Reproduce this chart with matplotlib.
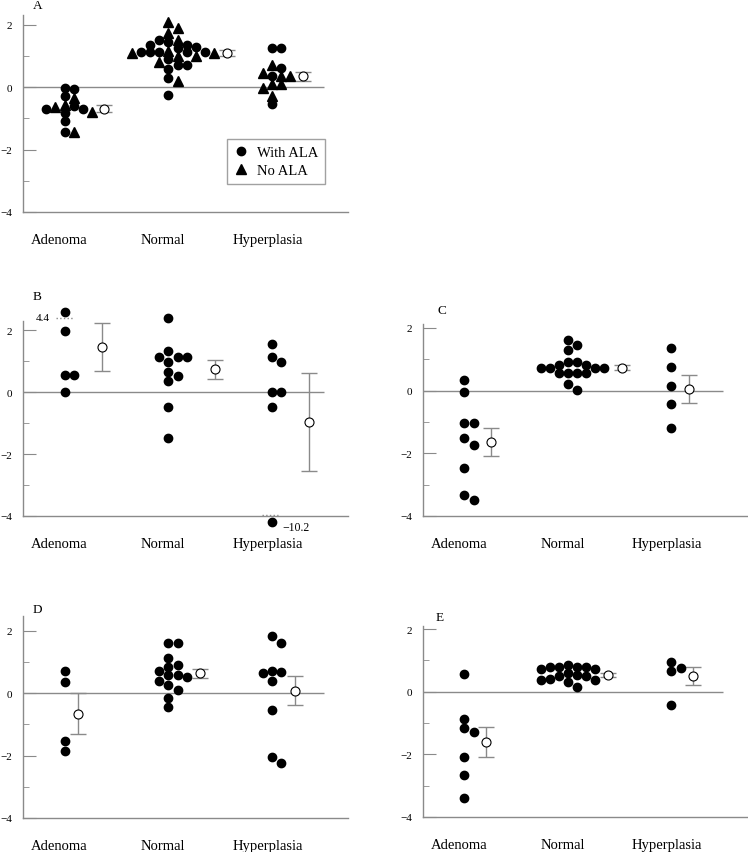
import numpy as np
import matplotlib
matplotlib.use("Agg")
import matplotlib.pyplot as plt

plt.rcParams['font.family'] = ['Liberation Serif', 'DejaVu Serif']

categories = ['Adenoma', 'Normal', 'Hyperplasia']

# Panel A: split by marker (circle = with ALA, triangle = no ALA)
a_ala = [
    [-0.03, -0.07, -0.27, -0.59, -0.70, -0.70, -0.82, -1.07, -1.42],
    [1.52, 1.46, 1.37, 1.37, 1.30, 1.27, 1.12, 1.12, 1.12, 1.12, 1.12,
     0.91, 0.70, 0.70, 0.59, 0.29, -0.24],
    [1.27, 1.27, 0.62, 0.37, -0.55],
]
a_noala = [
    [-0.35, -0.57, -0.62, -0.80, -1.42],
    [2.09, 1.89, 1.74, 1.53, 1.18, 1.10, 1.10, 1.02, 1.02, 0.80, 0.20],
    [0.70, 0.46, 0.37, 0.35, 0.11, 0.11, -0.03, -0.27],
]
a_mean = [-0.69, 1.09, 0.35]
a_err = [0.11, 0.10, 0.15]

b_vals = [
    [4.4, 1.98, 0.54, 0.54, 0.0],
    [2.41, 1.34, 1.13, 1.13, 1.13, 0.98, 0.65, 0.52, 0.35, -0.49, -1.49],
    [1.57, 1.15, 0.99, 0.0, 0.0, -0.49, -10.2],
]
b_mean = [1.47, 0.74, -0.95]
b_err = [0.77, 0.31, 1.58]

c_vals = [
    [0.35, -0.04, -1.05, -1.05, -1.52, -1.74, -2.47, -3.33, -3.50],
    [1.60, 1.44, 1.28, 0.90, 0.90, 0.82, 0.82, 0.73, 0.73, 0.73, 0.73,
     0.55, 0.55, 0.55, 0.55, 0.21, 0.02],
    [1.35, 0.75, 0.14, -0.42, -1.20],
]
c_mean = [-1.65, 0.72, 0.05]
c_err = [0.45, 0.08, 0.44]

d_vals = [
    [0.70, 0.37, -1.54, -1.86],
    [1.60, 1.60, 1.13, 0.91, 0.84, 0.71, 0.60, 0.60, 0.52, 0.41, 0.26,
     0.12, -0.15, -0.44],
    [1.84, 1.61, 0.71, 0.68, 0.66, 0.40, -0.52, -2.03, -2.24],
]
d_mean = [-0.65, 0.64, 0.09]
d_err = [0.65, 0.15, 0.48]

e_vals = [
    [0.57, -0.87, -1.17, -1.27, -2.09, -2.67, -3.38],
    [0.85, 0.80, 0.80, 0.80, 0.80, 0.72, 0.72, 0.60, 0.55, 0.49, 0.49,
     0.41, 0.37, 0.37, 0.32, 0.15],
    [0.94, 0.75, 0.67, -0.41],
]
e_mean = [-1.60, 0.53, 0.50]
e_err = [0.48, 0.07, 0.30]

GRAY = '#8a8a8a'
STEP = 0.088      # horizontal slot width (data units)
MINGAP = 0.24     # min vertical distance within a slot
BREAK_HI, BREAK_LO = 3.0, -4.0   # values past these are drawn on an axis break


def swarm(values):
    # simple grid beeswarm: highest value first, nearest free slot
    values = np.asarray(values, float)
    slots = np.zeros(len(values))
    placed = []
    for i in np.argsort(-values, kind='stable'):
        for k in [0, 1, -1, 2, -2, 3, -3, 4, -4, 5, -5]:
            if all(not (s == k and abs(v - values[i]) < MINGAP) for s, v in placed):
                break
        slots[i] = k
        placed.append((k, values[i]))
    return slots * STEP


def setup_axes(ax, ytop):
    ax.set_xlim(0.6, 3.73)
    ax.set_ylim(-4, ytop)
    for s in ['top', 'right']:
        ax.spines[s].set_visible(False)
    for s in ['left', 'bottom']:
        ax.spines[s].set_color(GRAY)
        ax.spines[s].set_linewidth(1)
    ax.hlines(0, 0.6, 3.5, color=GRAY, lw=1, zorder=1)
    ax.set_yticks([-4, -2, 0, 2])
    ax.set_yticklabels(['\u22124', '\u22122', '0', '2'])
    ax.set_yticks([-3, -1, 1], minor=True)
    ax.tick_params(axis='y', which='major', direction='in', length=9.5,
                   color=GRAY, labelsize=8, pad=8)
    ax.tick_params(axis='y', which='minor', direction='in', length=4,
                   color=GRAY)
    ax.set_xticks([0.95, 1.95, 2.96])
    ax.set_xticklabels(categories)
    ax.tick_params(axis='x', length=0, labelsize=10.5, pad=15)


def draw_mean(ax, x, m, e):
    ax.errorbar(x, m, yerr=e, fmt='none', ecolor=GRAY, elinewidth=1,
                capsize=5.5, capthick=1, zorder=2)
    ax.plot(x, m, 'o', ms=6.5, mfc='white', mec='black', mew=0.8, zorder=3)


W, H = 748, 853
fig = plt.figure(figsize=(W / 100, H / 100), dpi=100)


def make_ax(left, top, right, bottom):
    return fig.add_axes([left / W, 1 - bottom / H, (right - left) / W,
                         (bottom - top) / H])


def letter(px, py, s):
    fig.text(px / W, 1 - py / H, s, fontsize=9.5, ha='left', va='center')


# ---- panel A ----
ax = make_ax(23, 16, 348, 213)
setup_axes(ax, 2.32)
letter(33, 6, 'A')
for i in range(3):
    vals = np.array(a_ala[i] + a_noala[i])
    off = swarm(vals)
    n = len(a_ala[i])
    x = i + 1 + off
    ax.plot(x[:n], vals[:n], 'o', color='black', ms=6,
            label='With ALA' if i == 0 else None, zorder=3)
    ax.plot(x[n:], vals[n:], '^', color='black', ms=7,
            label='No ALA' if i == 0 else None, zorder=3)
    draw_mean(ax, x.max() + 0.12, a_mean[i], a_err[i])
leg = ax.legend(loc='lower left', bbox_to_anchor=(0.606, 0.107),
                fancybox=False, edgecolor=GRAY, fontsize=10.5,
                handletextpad=0.6, borderpad=0.45, labelspacing=0.35,
                handlelength=1.0)
leg.get_frame().set_linewidth(1)


def simple_panel(box, ytop, name, lpos, vals_list, means, errs, gap):
    ax = make_ax(*box)
    setup_axes(ax, ytop)
    letter(lpos[0], lpos[1], name)
    for i in range(3):
        vals = np.array(vals_list[i], float)
        shown = vals.copy()
        shown[vals > BREAK_HI] = ytop + 0.3
        shown[vals < BREAK_LO] = -4.2
        off = swarm(shown)
        x = i + 1 + off
        ax.plot(x, shown, 'o', color='black', ms=6, zorder=3, clip_on=False)
        draw_mean(ax, x.max() + gap, means[i], errs[i])
        for xv, v, sv in zip(x, vals, shown):
            if v > BREAK_HI:
                ax.plot([xv - 0.08, xv + 0.08], [sv - 0.2, sv - 0.2], ':',
                        color=GRAY, lw=1, clip_on=False)
                ax.text(xv - 0.14, sv - 0.2, f'{v:g}', ha='right',
                        va='center', fontsize=8)
            elif v < BREAK_LO:
                ax.plot([xv - 0.1, xv + 0.06], [-3.96, -3.96], ':',
                        color=GRAY, lw=1, clip_on=False)
                ax.text(xv + 0.1, sv - 0.15, f'{v:g}'.replace('-', '\u2212'),
                        ha='left', va='center', fontsize=8.5)
    return ax


simple_panel((23, 322, 348, 517), 2.3, 'B', (33, 297), b_vals, b_mean, b_err, 0.27)
simple_panel((423, 325, 747, 517), 2.12, 'C', (437, 311), c_vals, c_mean, c_err, 0.17)
simple_panel((23, 617, 348, 819), 2.48, 'D', (33, 610), d_vals, d_mean, d_err, 0.13)
simple_panel((423, 627, 747, 818), 2.1, 'E', (436, 618), e_vals, e_mean, e_err, 0.12)

fig.savefig('out.png', dpi=100)
